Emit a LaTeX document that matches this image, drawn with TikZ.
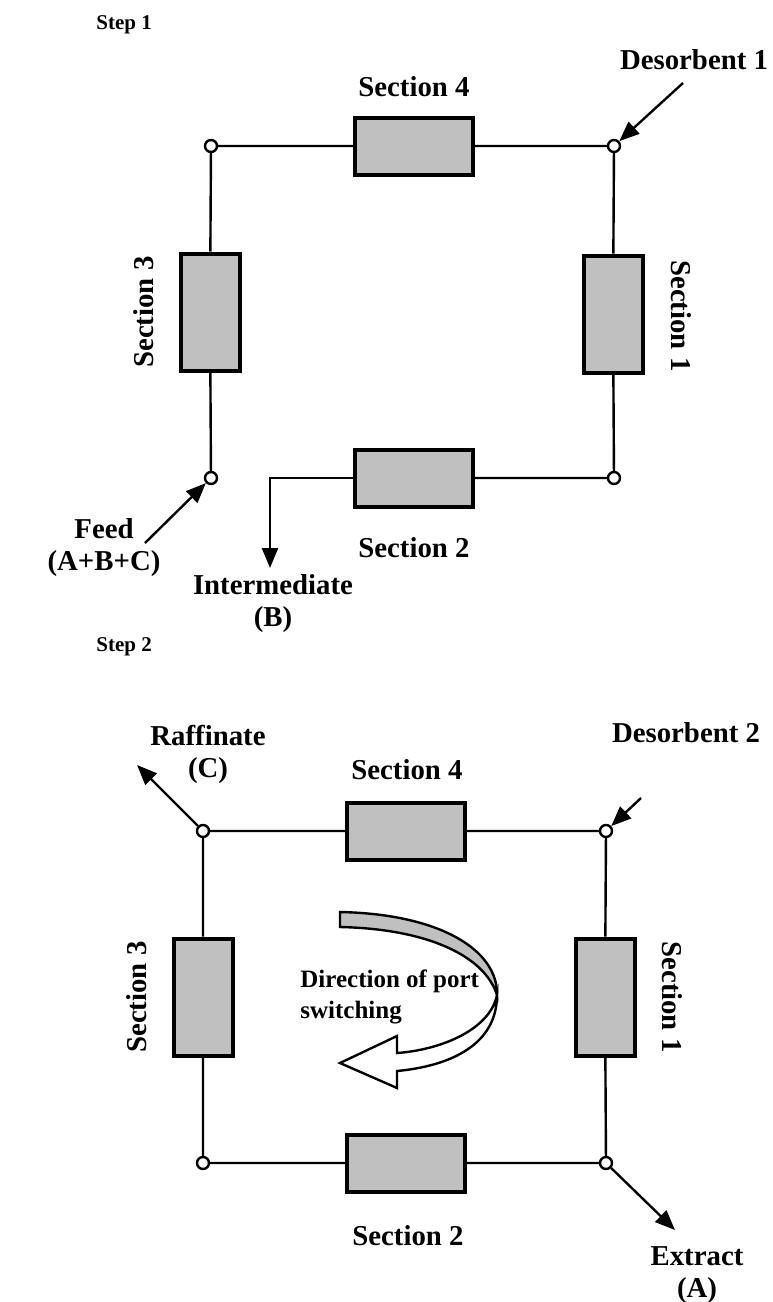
\documentclass[tikz,border=0pt]{standalone}
\usepackage{fontspec}
\setmainfont{Liberation Serif}
\usetikzlibrary{arrows.meta}
\definecolor{boxgray}{RGB}{192,192,192}
\tikzset{
  lbl/.style={font=\fontsize{14.4}{16}\selectfont\bfseries, align=center, inner sep=0pt},
  steplbl/.style={font=\fontsize{10.5}{12}\selectfont\bfseries, anchor=west, inner sep=0pt},
  dirlbl/.style={font=\fontsize{12.5}{14}\selectfont\bfseries, anchor=base west, inner sep=0pt},
  hsec/.style={draw, line width=2pt, fill=boxgray, minimum width=59pt, minimum height=28.5pt, inner sep=0pt},
  vsec/.style={hsec, minimum width=29.5pt, minimum height=58.5pt},
  port/.style={circle, draw, fill=white, line width=1.2pt, minimum size=6pt, inner sep=0pt},
  pipe/.style={line width=1.2pt},
  flow/.style={line width=1.2pt, -{Triangle[length=10pt,width=8pt]}},
}
\begin{document}
\begin{tikzpicture}[x=0.5pt,y=-0.5pt]
\useasboundingbox (0,0) rectangle (772,1302);
\node[steplbl] (step1) at (96,25) {Step 1};
\node[port] (p1tl) at (211,146) {};
\node[port] (p1tr) at (614,146) {};
\node[port] (p1bl) at (211,478) {};
\node[port] (p1br) at (614,478) {};
\node[hsec] (s1sec4) at (414,146) {};
\node[vsec] (s1sec1) at (613,314) {};
\node[hsec] (s1sec2) at (414,478) {};
\node[vsec] (s1sec3) at (210,312) {};
\draw[pipe] (p1tl) -- (s1sec4) -- (p1tr) -- (s1sec1) -- (p1br) -- (s1sec2);
\draw[pipe] (p1bl) -- (s1sec3) -- (p1tl);
\coordinate (interout) at (270,568);
\draw[flow] (s1sec2.west) -| (interout);
\node[lbl] (d1lab) at (694,60) {Desorbent 1};
\coordinate (d1in) at (683,83);
\draw[flow] (d1in) -- (p1tr);
\node[lbl] (s1lab4) at (414,87) {Section 4};
\node[lbl, rotate=-90] (s1lab1) at (681,316) {Section 1};
\node[lbl] (s1lab2) at (414,548) {Section 2};
\node[lbl, rotate=90] (s1lab3) at (144,312) {Section 3};
\node[lbl] (feedlab) at (104,548) {Feed\\(A+B+C)};
\coordinate (feedin) at (145,543);
\draw[flow] (feedin) -- (p1bl);
\node[lbl] (interlab) at (273,604) {Intermediate\\(B)};
\node[steplbl] (step2) at (96,647) {Step 2};
\node[port] (p2tl) at (203,831) {};
\node[port] (p2tr) at (606,831) {};
\node[port] (p2bl) at (203,1163) {};
\node[port] (p2br) at (606,1163) {};
\node[hsec] (s2sec4) at (406,831) {};
\node[vsec] (s2sec1) at (605,997) {};
\node[hsec] (s2sec2) at (406,1163) {};
\node[vsec] (s2sec3) at (203,997) {};
\draw[pipe] (p2tl) -- (s2sec4) -- (p2tr) -- (s2sec1) -- (p2br) -- (s2sec2) -- (p2bl) -- (s2sec3) -- (p2tl);
\node[lbl] (raflab) at (208,754) {Raffinate\\(C)};
\coordinate (rafout) at (137,765);
\draw[flow] (p2tl) -- (rafout);
\node[lbl] (s2lab4) at (407,770) {Section 4};
\node[lbl] (d2lab) at (686,733) {Desorbent 2};
\coordinate (d2in) at (641,798);
\draw[flow] (d2in) -- (p2tr);
\node[lbl, rotate=90] (s2lab3) at (137,997) {Section 3};
\node[lbl, rotate=-90] (s2lab1) at (672,997) {Section 1};
\node[lbl] (s2lab2) at (408,1236) {Section 2};
\node[lbl] (extlab) at (697,1275) {Extract\\(A)};
\coordinate (extout) at (675,1230);
\draw[flow] (p2br) -- (extout);
\filldraw[pipe, fill=boxgray] (340,912) .. controls (440,914) and (498,950) .. (497,995) .. controls (485,957) and (430,929) .. (340,927) -- cycle;
\filldraw[pipe, fill=white] (497,995) .. controls (497,1045) and (450,1066) .. (397,1071) -- (397,1088) -- (340,1063) -- (397,1036) -- (397,1053) .. controls (440,1050) and (490,1030) .. (497,995) -- cycle;
\node[dirlbl] (dirlab1) at (300,987) {Direction of port};
\node[dirlbl] (dirlab2) at (300,1018) {switching};
\end{tikzpicture}
\end{document}
